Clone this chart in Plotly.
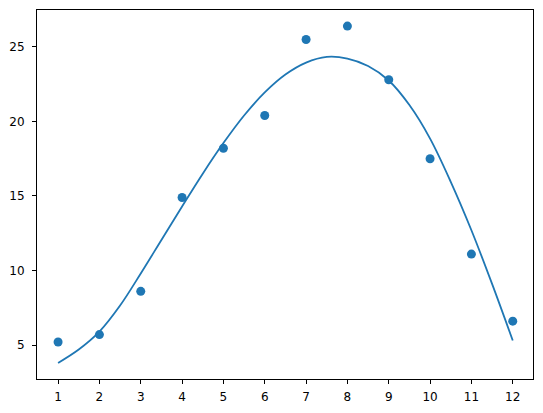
import plotly.graph_objects as go

# observed points
months = [1, 2, 3, 4, 5, 6, 7, 8, 9, 10, 11, 12]
values = [5.2, 5.7, 8.6, 14.9, 18.2, 20.4, 25.5, 26.4, 22.8, 17.5, 11.1, 6.6]

# fitted curve at half steps
curve_x = [1, 1.5, 2, 2.5, 3, 3.5, 4, 4.5, 5, 5.5, 6, 6.5,
           7, 7.5, 8, 8.5, 9, 9.5, 10, 10.5, 11, 11.5, 12]
curve_y = [3.8, 4.7, 5.9, 7.65, 9.8, 12.05, 14.3, 16.5, 18.55, 20.4, 21.95, 23.15,
           23.95, 24.33, 24.22, 23.72, 22.75, 21.1, 18.85, 15.95, 12.7, 9.1, 5.3]

x_ticks = list(range(1, 13))
y_ticks = [5, 10, 15, 20, 25]

blue = '#1f77b4'

fig = go.Figure()
fig.add_trace(go.Scatter(
    x=curve_x, y=curve_y,
    mode='lines',
    line=dict(color=blue, width=1.8, shape='spline', smoothing=1.0),
    showlegend=False
))
fig.add_trace(go.Scatter(
    x=months, y=values,
    mode='markers',
    marker=dict(color=blue, size=9, line=dict(width=0)),
    showlegend=False
))

axis_style = dict(
    showgrid=False, zeroline=False,
    showline=True, linecolor='black', linewidth=1, mirror=True,
    ticks='outside', ticklen=4, tickwidth=1, tickcolor='black',
    tickfont=dict(family='DejaVu Sans', size=12, color='black'),
)

# page body adds an 8px offset, so the figure is drawn 8px smaller
fig.update_layout(
    width=535, height=405,
    margin=dict(l=29, r=10, t=2, b=34, autoexpand=False),
    paper_bgcolor='white', plot_bgcolor='white',
    xaxis=dict(range=[0.49, 12.49], tickvals=x_ticks, ticklabelstandoff=3, **axis_style),
    yaxis=dict(range=[2.72, 27.48], tickvals=y_ticks, ticklabelstandoff=5, **axis_style),
)

fig.write_html("out.html")
